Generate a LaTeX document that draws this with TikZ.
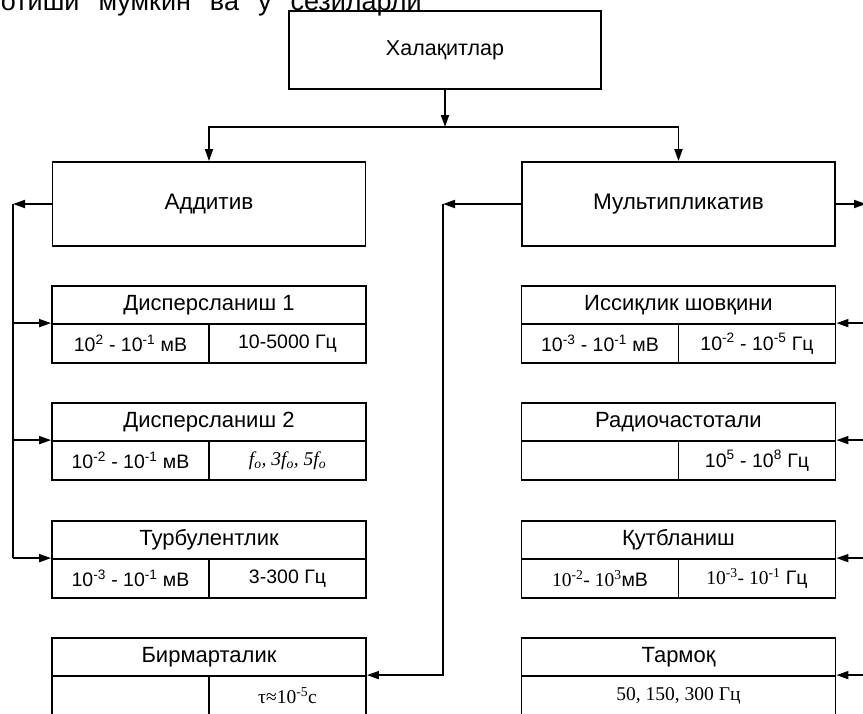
\documentclass[tikz,border=0pt]{standalone}
\usepackage{fontspec}
\setmainfont{Liberation Sans}
\newfontfamily\timesfont{Liberation Serif}
\usetikzlibrary{arrows.meta,positioning,calc}

\begin{document}
\begin{tikzpicture}[x=1pt,y=-1pt,line width=1.8pt,
  bigbox/.style={draw, minimum width=313pt, minimum height=84pt, inner sep=0pt, font=\fontsize{22.5}{27}\selectfont},
  headbox/.style={draw, minimum width=314pt, minimum height=38pt, inner sep=0pt, font=\fontsize{22}{26}\selectfont},
  cellbox/.style={draw, minimum width=157pt, minimum height=39pt, inner sep=0pt, font=\fontsize{19.5}{23}\selectfont},
  widecell/.style={cellbox, minimum width=314pt},
  arr/.style={-{Triangle[length=12pt,width=8pt]}}]
  \useasboundingbox (0,0) rectangle (863,713);
  \clip (0,0) rectangle (863,713);

  % line of the page text, cut at the top
  \node[anchor=base west, inner sep=0pt, font=\fontsize{27}{32}\selectfont] (pagetext) at (0,10)
    {\spaceskip=19pt отиши мумкин ва у сезиларли};

  \node[bigbox, minimum width=312pt, minimum height=78pt, font=\fontsize{21.5}{26}\selectfont] (halaq) at (445,50) {Халақитлар};
  \node[bigbox] (add) at (209,204) {Аддитив};
  \node[bigbox] (mult) at (678.5,204) {Мультипликатив};

  % additive side
  \node[headbox] (dis1) at (209,305) {Дисперсланиш 1};
  \node[cellbox] (dis1a) at (130.5,343.5) {10\textsuperscript{2} - 10\textsuperscript{-1} мВ};
  \node[cellbox] (dis1b) at (287.5,343.5) {10-5000 Гц};

  \node[headbox] (dis2) at (209,422) {Дисперсланиш 2};
  \node[cellbox] (dis2a) at (130.5,460.5) {10\textsuperscript{-2} - 10\textsuperscript{-1} мВ};
  \node[cellbox] (dis2b) at (287.5,460.5) {\timesfont\itshape f\textsubscript{o}, 3f\textsubscript{o}, 5f\textsubscript{o}};

  \node[headbox] (turb) at (209,540) {Турбулентлик};
  \node[cellbox] (turba) at (130.5,578.5) {10\textsuperscript{-3} - 10\textsuperscript{-1} мВ};
  \node[cellbox] (turbb) at (287.5,578.5) {3-300 Гц};

  \node[headbox] (bir) at (209,657) {Бирмарталик};
  \node[cellbox] (bira) at (130.5,695.5) {};
  \node[cellbox] (birb) at (287.5,695.5) {\timesfont τ≈10\textsuperscript{-5}с};

  % multiplicative side
  \node[headbox] (iss) at (678.5,305) {Иссиқлик шовқини};
  \node[cellbox] (issa) at (600,343.5) {10\textsuperscript{-3} - 10\textsuperscript{-1} мВ};
  \node[cellbox] (issb) at (757,343.5) {10\textsuperscript{-2} - 10\textsuperscript{-5} Гц};

  \node[headbox] (radio) at (678.5,422) {Радиочастотали};
  \node[cellbox] (radioa) at (600,460.5) {};
  \node[cellbox] (radiob) at (757,460.5) {10\textsuperscript{5} - 10\textsuperscript{8} Гц};

  \node[headbox] (qutb) at (678.5,540) {Қутбланиш};
  \node[cellbox] (qutba) at (600,578.5) {{\timesfont 10\textsuperscript{-2}- 10\textsuperscript{3}}мВ};
  \node[cellbox] (qutbb) at (757,578.5) {{\timesfont 10\textsuperscript{-3}- 10\textsuperscript{-1}} Гц};

  \node[headbox] (tarm) at (678.5,657) {Тармоқ};
  \node[widecell] (tarma) at (678.5,695.5) {\timesfont 50, 150, 300 Гц};

  % connectors
  \coordinate (bus) at (445,127);
  \draw[arr] (halaq.south) -- (bus);
  \draw[arr] (bus) -| (add.north);
  \draw[arr] (bus) -| (mult.north);

  \coordinate (lbus) at (13,204);
  \draw[arr] (add.west) -- (lbus);
  \draw (lbus) -- (lbus |- turba.north west);
  \draw[arr] (lbus |- dis1a.north west) -- (dis1a.north west);
  \draw[arr] (lbus |- dis2a.north west) -- (dis2a.north west);
  \draw[arr] (lbus |- turba.north west) -- (turba.north west);

  \coordinate (mbus) at (443,204);
  \draw[arr] (mult.west) -- (mbus);
  \draw[arr] (mbus) |- (birb.north east);

  \coordinate (rbus) at (866,204);
  \draw[arr] (mult.east) -- (rbus);
  \draw (rbus) -- (rbus |- tarma.north east);
  \draw[arr] (rbus |- issb.north east) -- (issb.north east);
  \draw[arr] (rbus |- radiob.north east) -- (radiob.north east);
  \draw[arr] (rbus |- qutbb.north east) -- (qutbb.north east);
  \draw[arr] (rbus |- tarma.north east) -- (tarma.north east);
\end{tikzpicture}
\end{document}
